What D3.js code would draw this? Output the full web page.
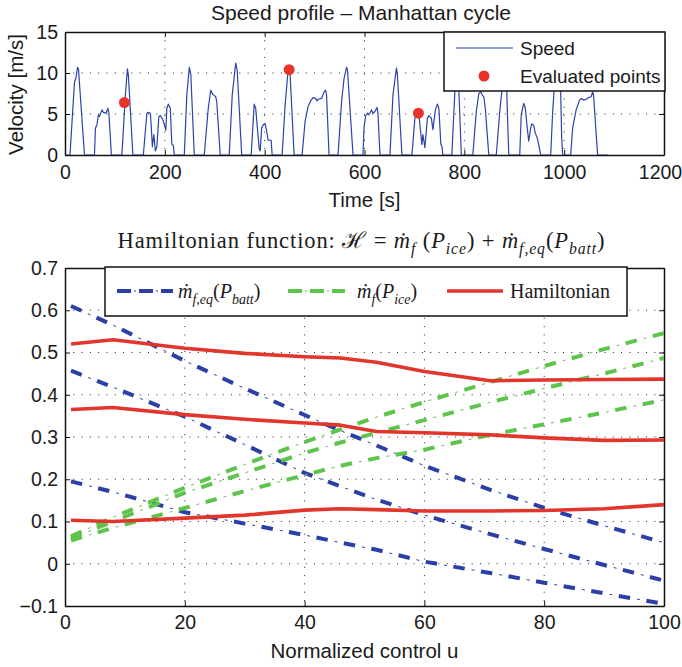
<!DOCTYPE html>
<html>
<head>
<meta charset="utf-8">
<script src="https://cdn.jsdelivr.net/npm/d3@7"></script>
<style>
  body { margin: 0; background: #fff; }
  svg { display: block; }
</style>
</head>
<body>
<div id="chart"></div>
<script>
// ---- Speed profile (Manhattan cycle), knots ----
const speedTime = [1, 10, 19, 22, 25, 27, 39, 59, 61, 64, 67, 69, 74, 77, 82, 86, 88, 93,
  114, 121, 125, 127, 136, 157, 164, 167, 171, 173, 175, 178, 181, 184, 188, 191, 196, 199, 202, 204, 207, 211, 214, 217, 219,
  239, 244, 249, 252, 259, 279, 287, 292, 295, 298, 302, 304, 311,
  329, 335, 342, 345, 354, 373, 379, 382, 389, 391, 394, 397, 401, 404, 407, 413, 415,
  435, 441, 446, 449, 451, 459, 475, 481, 487, 493, 497, 502, 505, 507, 514, 519, 522, 524, 529,
  547, 554, 559, 564, 566, 577, 597, 599, 602, 606, 609, 614, 617, 621, 625, 627, 631,
  651, 657, 664, 666, 675, 695, 701, 704, 709, 713, 715, 717, 721, 726, 729, 734, 737, 742, 746, 749, 753, 755, 757,
  775, 781, 785, 788, 794, 817, 824, 829, 833, 836, 839, 842, 849,
  864, 871, 875, 879, 882, 885, 889, 911, 914, 919, 922, 926, 929, 933, 935, 939, 942, 946, 949, 953,
  973, 977, 981, 985, 989, 993, 995, 997, 1013, 1017, 1024, 1031, 1035, 1039, 1044, 1049, 1054, 1057, 1059, 1067, 1088];
const speedValue = [0, 0, 8.9, 9.4, 10.7, 10.5, 0, 0, 3.3, 3.7, 4.9, 4.7, 5.5, 5.2, 5.1, 5.7, 5.1, 0,
  0, 7.3, 10.5, 9.7, 0, 0, 5.1, 5.2, 5.1, 3.3, 1.0, 2.5, 0.5, 1.0, 4.7, 4.8, 4.3, 3.7, 3.0, 5.7, 6.2, 5.7, 1.3, 1.2, 0,
  0, 7.3, 10.7, 9.9, 0, 0, 5.7, 7.9, 7.5, 7.3, 7.1, 6.5, 0,
  0, 7.3, 11.2, 10.3, 0, 0, 6.2, 5.7, 0.8, 0.5, 3.3, 3.7, 3.8, 2.9, 1.8, 1.8, 0,
  0, 6.1, 9.7, 10.3, 9.8, 0, 0, 4.1, 5.9, 6.7, 7.0, 6.9, 6.6, 6.8, 6.9, 7.7, 7.9, 7.3, 0,
  0, 6.5, 9.3, 10.7, 10.3, 0, 0, 3.3, 4.7, 5.1, 4.9, 5.5, 5.1, 5.3, 5.8, 5.1, 0,
  0, 7.3, 10.6, 9.7, 0, 0, 4.5, 5.3, 4.9, 2.5, 1.3, 2.5, 0.9, 4.5, 4.8, 4.5, 3.1, 5.5, 6.2, 5.7, 1.3, 1.1, 0,
  0, 7.7, 11.2, 9.5, 0, 0, 5.3, 7.5, 7.7, 7.3, 7.1, 5.7, 0,
  0, 5.3, 7.7, 10.0, 9.6, 7.7, 0, 0, 4.9, 6.3, 5.8, 3.3, 1.7, 3.3, 3.8, 3.6, 2.7, 2.1, 1.3, 0,
  0, 5.3, 9.0, 11.0, 10.0, 7.7, 2.1, 0, 0, 3.3, 5.5, 6.7, 6.9, 6.7, 6.8, 7.0, 7.1, 7.7, 7.2, 0, 0];
const evalTime = [119, 449, 708];
const evalSpeed = [6.4, 10.4, 5.1];
const timeTicks = [0, 200, 400, 600, 800, 1000, 1200];
const velocityTicks = [0, 5, 10, 15];

// ---- Hamiltonian vs normalized control ----
const controlU = [1, 8, 20, 30, 40, 46, 52, 60, 71, 80, 90, 100];
const battHigh = [0.61, 0.565, 0.48, 0.415, 0.352, 0.315, 0.28, 0.232, 0.175, 0.132, 0.09, 0.05];
const battMid = [0.457, 0.418, 0.348, 0.282, 0.215, 0.183, 0.152, 0.115, 0.07, 0.035, -0.003, -0.04];
const battLow = [0.195, 0.17, 0.122, 0.095, 0.068, 0.05, 0.033, 0.005, -0.022, -0.045, -0.07, -0.095];
const iceHigh = [0.065, 0.11, 0.18, 0.235, 0.288, 0.318, 0.347, 0.383, 0.43, 0.468, 0.508, 0.546];
const iceMid = [0.06, 0.1, 0.168, 0.215, 0.262, 0.287, 0.31, 0.34, 0.382, 0.415, 0.45, 0.487];
const iceLow = [0.055, 0.085, 0.132, 0.172, 0.21, 0.232, 0.25, 0.27, 0.305, 0.33, 0.358, 0.388];
const hamHigh = [0.52, 0.53, 0.51, 0.498, 0.49, 0.487, 0.477, 0.455, 0.433, 0.435, 0.436, 0.437];
const hamMid = [0.365, 0.37, 0.353, 0.342, 0.333, 0.328, 0.313, 0.31, 0.305, 0.298, 0.292, 0.293];
const hamLow = [0.103, 0.1, 0.108, 0.115, 0.127, 0.13, 0.128, 0.125, 0.125, 0.126, 0.13, 0.14];
const controlTicks = [0, 20, 40, 60, 80, 100];
const hamTicks = [-0.1, 0, 0.1, 0.2, 0.3, 0.4, 0.5, 0.6, 0.7];

const BLUE = "#2b3fa6", GREEN = "#5ec44c", RED = "#e2352b", SPEED = "#2c44aa";
const SANS = "'Liberation Sans', Arial, sans-serif";
const SERIF = "'Liberation Serif', 'DejaVu Serif', serif";

const svg = d3.select("#chart").append("svg")
  .attr("width", 682).attr("height", 667)
  .attr("viewBox", "0 0 682 667");
const defs = svg.append("defs");

// Axes box with inward ticks on every side and a dotted grid
function drawFrame(g, x, y, w, h, xTicks, yTicks, xFmt, yFmt, xPad, yPad) {
  const grid = g.append("g").attr("stroke", "#222").attr("stroke-width", 1)
    .attr("stroke-dasharray", "1,7.3");
  grid.selectAll(".gx").data(xTicks.slice(1, -1)).join("line")
    .attr("x1", d => x(d)).attr("x2", d => x(d)).attr("y1", 0).attr("y2", h);
  grid.selectAll(".gy").data(yTicks.slice(1, -1)).join("line")
    .attr("y1", d => y(d)).attr("y2", d => y(d)).attr("x1", 0).attr("x2", w);

  const styleAxis = sel => {
    sel.select(".domain").attr("stroke", "#111").attr("stroke-width", 1.5);
    sel.selectAll(".tick line").attr("stroke", "#111");
    sel.selectAll("text").attr("fill", "#1a1a1a").style("font-family", SANS).style("font-size", "19.5px");
  };
  g.append("g").attr("transform", `translate(0,${h})`)
    .call(d3.axisBottom(x).tickValues(xTicks).tickSizeInner(-5).tickSizeOuter(0).tickPadding(xPad).tickFormat(xFmt))
    .call(styleAxis);
  g.append("g")
    .call(d3.axisTop(x).tickValues(xTicks).tickSizeInner(-5).tickSizeOuter(0).tickFormat(""))
    .call(styleAxis);
  g.append("g")
    .call(d3.axisLeft(y).tickValues(yTicks).tickSizeInner(-5).tickSizeOuter(0).tickPadding(yPad).tickFormat(yFmt))
    .call(styleAxis);
  g.append("g").attr("transform", `translate(${w},0)`)
    .call(d3.axisRight(y).tickValues(yTicks).tickSizeInner(-5).tickSizeOuter(0).tickFormat(""))
    .call(styleAxis);
}

// ================= Top chart: speed profile =================
const topBox = { left: 65, top: 32, w: 599, h: 123 };
const gTop = svg.append("g").attr("transform", `translate(${topBox.left},${topBox.top})`);
const xTime = d3.scaleLinear().domain([0, 1200]).range([0, topBox.w]);
const yVel = d3.scaleLinear().domain([0, 15]).range([topBox.h, 0]);

defs.append("clipPath").attr("id", "clipTop")
  .append("rect").attr("width", topBox.w).attr("height", topBox.h + 1).attr("y", -1);

drawFrame(gTop, xTime, yVel, topBox.w, topBox.h, timeTicks, velocityTicks, d3.format("d"), d3.format("d"), 10.5, 7);
// last time label sits at the figure edge: nudge it left so it stays inside
gTop.selectAll("text").filter(d => d === 1200).attr("dx", -4);

const speedData = speedTime.map((t, i) => ({ t, v: speedValue[i] }));
gTop.append("path")
  .datum(speedData)
  .attr("clip-path", "url(#clipTop)")
  .attr("fill", "none")
  .attr("stroke", SPEED)
  .attr("stroke-width", 1.2)
  .attr("stroke-linejoin", "round")
  .attr("d", d3.line().x(d => xTime(d.t)).y(d => yVel(d.v)));

gTop.selectAll(".evalpt")
  .data(evalTime.map((t, i) => ({ t, v: evalSpeed[i] })))
  .join("circle")
  .attr("cx", d => xTime(d.t))
  .attr("cy", d => yVel(d.v))
  .attr("r", 5.5)
  .attr("fill", "#e8322a");

// legend (top right)
const legTop = svg.append("g").attr("transform", "translate(444,32)");
legTop.append("rect").attr("width", 221).attr("height", 59)
  .attr("fill", "#fff").attr("stroke", "#111").attr("stroke-width", 1.5);
legTop.append("line").attr("x1", 12).attr("x2", 69).attr("y1", 16).attr("y2", 16)
  .attr("stroke", SPEED).attr("stroke-width", 1.2);
legTop.append("circle").attr("cx", 40).attr("cy", 44).attr("r", 5.5).attr("fill", "#e8322a");
legTop.selectAll("text").data(["Speed", "Evaluated points"]).join("text")
  .attr("x", 76).attr("y", (d, i) => 23 + i * 28)
  .style("font-family", SANS).style("font-size", "19px").attr("fill", "#1a1a1a")
  .text(d => d);

// titles / labels
svg.append("text").attr("x", 361).attr("y", 20).attr("text-anchor", "middle")
  .style("font-family", SANS).style("font-size", "21px").attr("fill", "#1a1a1a")
  .text("Speed profile \u2013 Manhattan cycle");
svg.append("text").attr("x", 364.5).attr("y", 207).attr("text-anchor", "middle")
  .style("font-family", SANS).style("font-size", "20.5px").attr("fill", "#1a1a1a")
  .text("Time [s]");
svg.append("text").attr("transform", "translate(22.5,94.5) rotate(-90)").attr("text-anchor", "middle")
  .style("font-family", SANS).style("font-size", "20.5px").attr("fill", "#1a1a1a")
  .text("Velocity [m/s]");

// ================= Bottom chart: Hamiltonian =================
const botBox = { left: 65, top: 268, w: 599, h: 338 };
const gBot = svg.append("g").attr("transform", `translate(${botBox.left},${botBox.top})`);
const xU = d3.scaleLinear().domain([0, 100]).range([0, botBox.w]);
const yH = d3.scaleLinear().domain([-0.1, 0.7]).range([botBox.h, 0]);

defs.append("clipPath").attr("id", "clipBot")
  .append("rect").attr("width", botBox.w).attr("height", botBox.h);

const hFmt = d => d === 0 ? "0" : d3.format(".1f")(d);
drawFrame(gBot, xU, yH, botBox.w, botBox.h, controlTicks, hamTicks, d3.format("d"), hFmt, 9, 7);

const lineU = d3.line().x(d => xU(d.u)).y(d => yH(d.v));
const toPts = vals => controlU.map((u, i) => ({ u, v: vals[i] }));

// dash-dot: thick dashes plus thin dots in between
function dashDot(g, pts, color) {
  g.append("path").datum(pts).attr("d", lineU).attr("fill", "none")
    .attr("stroke", color).attr("stroke-width", 4).attr("stroke-dasharray", "11.5,16.5");
  g.append("path").datum(pts).attr("d", lineU).attr("fill", "none")
    .attr("stroke", color).attr("stroke-width", 1).attr("stroke-dasharray", "0,18.5,3,6.5");
}

const plotBot = gBot.append("g").attr("clip-path", "url(#clipBot)");
[battHigh, battMid, battLow].forEach(s => dashDot(plotBot, toPts(s), BLUE));
[iceHigh, iceMid, iceLow].forEach(s => dashDot(plotBot, toPts(s), GREEN));
[hamHigh, hamMid, hamLow].forEach(s => {
  plotBot.append("path").datum(toPts(s)).attr("d", lineU).attr("fill", "none")
    .attr("stroke", RED).attr("stroke-width", 3.6).attr("stroke-linejoin", "round");
});

// math-like text built from pieces: [text, italic, sub]
function mathText(sel, pieces, size) {
  let prevSub = false;
  pieces.forEach(([t, it, sub]) => {
    const ts = sel.append("tspan").text(t)
      .style("font-style", it ? "italic" : "normal")
      .style("font-size", sub ? (size * 0.7) + "px" : size + "px");
    if (sub && !prevSub) ts.attr("dy", size * 0.28);
    if (!sub && prevSub) ts.attr("dy", -size * 0.28);
    prevSub = !!sub;
  });
}

const legBot = svg.append("g").attr("transform", "translate(105,267)");
legBot.append("rect").attr("width", 522).attr("height", 49)
  .attr("fill", "#fff").attr("stroke", "#111").attr("stroke-width", 1.5);
const sampleLine = d3.line();
function legendDashDot(x1, x2, color) {
  legBot.append("path").attr("d", sampleLine([[x1, 24], [x2, 24]])).attr("fill", "none")
    .attr("stroke", color).attr("stroke-width", 4).attr("stroke-dasharray", "14,8");
  legBot.append("path").attr("d", sampleLine([[x1, 24], [x2, 24]])).attr("fill", "none")
    .attr("stroke", color).attr("stroke-width", 1).attr("stroke-dasharray", "0,17,2,3");
}
legendDashDot(12, 68, BLUE);
legendDashDot(183, 240, GREEN);
legBot.append("line").attr("x1", 342).attr("x2", 398).attr("y1", 24).attr("y2", 24)
  .attr("stroke", RED).attr("stroke-width", 3.6);

const lt1 = legBot.append("text").attr("x", 73).attr("y", 31).style("font-family", SERIF).attr("fill", "#1a1a1a");
mathText(lt1, [["\u1E41", true], ["f,eq", true, true], ["(", false], ["P", true], ["batt", true, true], [")", false]], 20);
const lt2 = legBot.append("text").attr("x", 252).attr("y", 31).style("font-family", SERIF).attr("fill", "#1a1a1a");
mathText(lt2, [["\u1E41", true], ["f", true, true], ["(", false], ["P", true], ["ice", true, true], [")", false]], 20);
legBot.append("text").attr("x", 405).attr("y", 31).style("font-family", SERIF).style("font-size", "20px")
  .attr("fill", "#1a1a1a").text("Hamiltonian");

// bottom title
const tt = svg.append("text").attr("x", 361.5).attr("y", 248).attr("text-anchor", "middle")
  .style("font-family", SERIF).style("letter-spacing", "0.9px").attr("fill", "#1a1a1a");
mathText(tt, [["Hamiltonian function:  ", false], ["\u210B", false], [" = ", false],
  ["\u1E41", true], ["f", true, true], [" (", false], ["P", true], ["ice", true, true], [") + ", false],
  ["\u1E41", true], ["f,eq", true, true], ["(", false], ["P", true], ["batt", true, true], [")", false]], 22.5);

svg.append("text").attr("x", 364.5).attr("y", 658).attr("text-anchor", "middle")
  .style("font-family", SANS).style("font-size", "20.5px").attr("fill", "#1a1a1a")
  .text("Normalized control u");
</script>
</body>
</html>
